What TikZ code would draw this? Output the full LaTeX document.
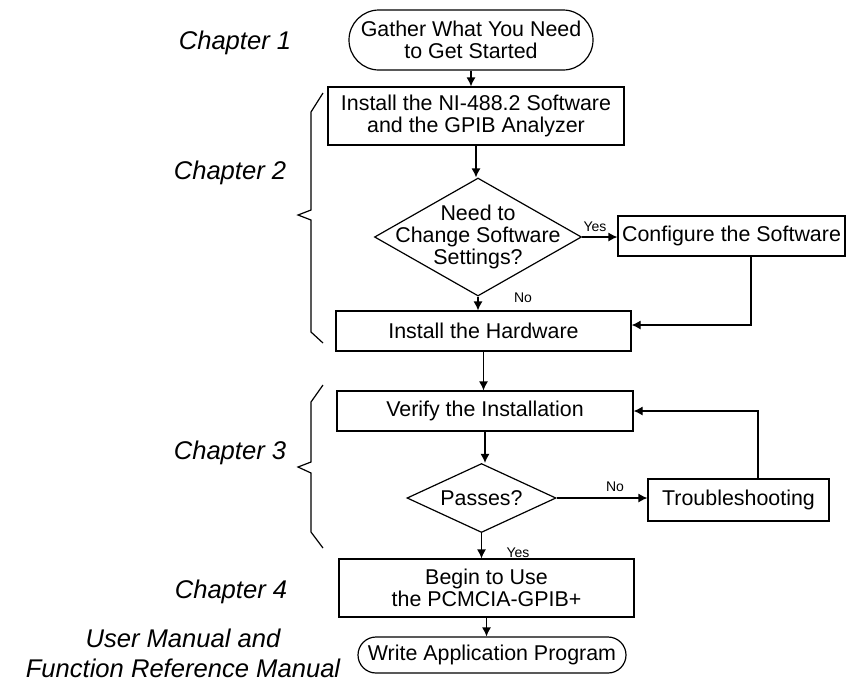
\documentclass[tikz,border=0pt]{standalone}
\usepackage{fontspec}
\setmainfont{Liberation Sans}
\usetikzlibrary{arrows.meta,shapes.geometric}

\begin{document}
\begin{tikzpicture}[x=0.5pt,y=-0.5pt,
    font=\fontsize{10.7}{11.2}\selectfont,
    box/.style={draw,line width=.6pt,align=center,inner sep=0pt},
    term/.style={box,rounded corners=#1},
    decision/.style={draw,diamond,line width=.6pt,inner sep=0pt},
    chap/.style={font=\fontsize{12.8}{15}\selectfont\itshape,align=center},
    lbl/.style={font=\fontsize{7}{8}\selectfont,inner sep=0pt}]
\useasboundingbox (0,0) rectangle (846,682);

% flow chart
\node[term=15pt,minimum width=122pt,minimum height=30pt] (start) at (471,40) {Gather What You Need\\to Get Started};
\node[box,minimum width=148pt,minimum height=29pt] (install) at (476,116) {Install the NI-488.2 Software\\and the GPIB Analyzer};
\node[decision,minimum width=103.5pt,minimum height=59pt,
      label={[align=center]center:Need to\\Change Software\\Settings?}] (need) at (478,237) {};
\node[box,minimum width=113.5pt,minimum height=20pt] (config) at (731.5,236) {Configure the Software};
\node[box,minimum width=147.5pt,minimum height=20pt] (hardware) at (483.5,331) {Install the Hardware};
\node[box,minimum width=148pt,minimum height=20pt] (verify) at (485,411) {Verify the Installation};
\node[decision,minimum width=74.5pt,minimum height=34.5pt,
      label={center:Passes?}] (passes) at (481.5,498) {};
\node[box,minimum width=90.5pt,minimum height=21pt] (trouble) at (738.5,500) {Troubleshooting};
\node[box,minimum width=147.5pt,minimum height=29pt] (begin) at (486.5,588) {Begin to Use\\the PCMCIA-GPIB+};
\node[term=9pt,minimum width=134pt,minimum height=18pt] (write) at (492,655) {Write Application Program};

% yes / no
\node[lbl] (yes1) at (595,227) {Yes};
\node[lbl] (no1) at (523,298) {No};
\node[lbl] (no2) at (615,487) {No};
\node[lbl] (yes2) at (518,553) {Yes};

% chapters
\node[chap] (ch1) at (235,43) {Chapter 1};
\node[chap] (ch2) at (230,173) {Chapter 2};
\node[chap] (ch3) at (230,453) {Chapter 3};
\node[chap] (ch4) at (231,592) {Chapter 4};
\node[chap] (manual) at (183,653) {User Manual and\\Function Reference Manual};

% braces
\draw[line width=.6pt] (323,93) -- (311,112) -- (311,210) -- (298,215) -- (311,220) -- (311,332) -- (323,343);
\draw[line width=.6pt] (323,385) -- (311,402) -- (311,462) -- (298,467) -- (311,473) -- (311,532) -- (323,548);

\begin{scope}[>={Latex[length=4.5pt,width=4.5pt]},
              every edge/.style={draw,line width=.6pt}]
    \path [->] (start.south) edge (start.south |- install.north);
    \path [->] (install.south) edge (install.south |- need.north);
    \path [->] (need.east) edge (need.east -| config.west);
    \path [->] (need.south) edge (need.south |- hardware.north);
    \path [->] (hardware.south) edge (hardware.south |- verify.north);
    \path [->] (verify.south) edge (verify.south |- passes.north);
    \path [->] (passes.east) edge (passes.east -| trouble.west);
    \path [->] (passes.south) edge (passes.south |- begin.north);
    \path [->] (begin.south) edge (begin.south |- write.north);
    \draw [->,line width=.6pt] ([xshift=9.75pt]config.south) |- ([yshift=3pt]hardware.east);
    \draw [->,line width=.6pt] ([xshift=9.75pt]trouble.north) |- (verify.east);
\end{scope}
\end{tikzpicture}
\end{document}
